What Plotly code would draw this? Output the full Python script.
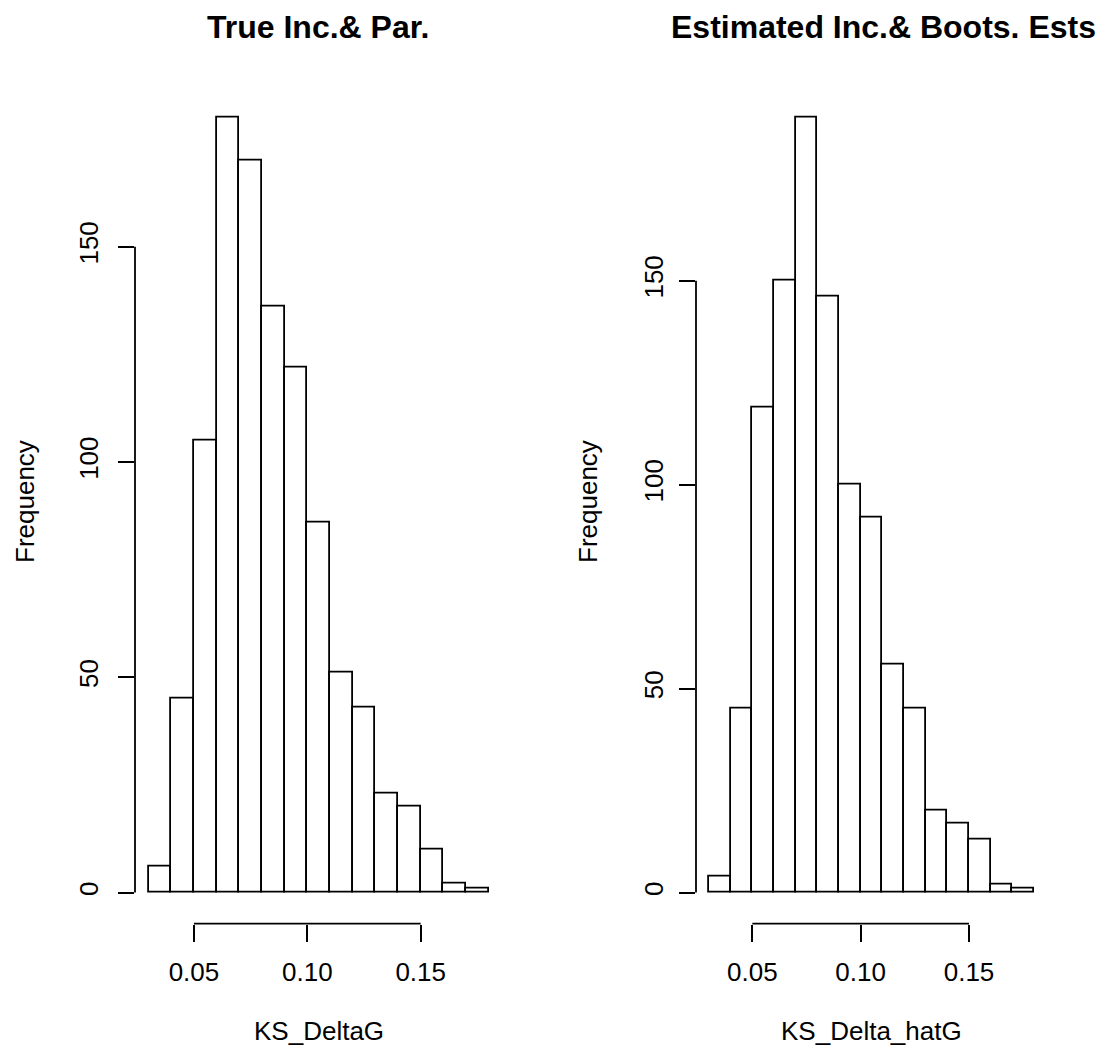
import plotly.graph_objects as go

# Histogram breaks (shared by both panels)
bin_edges = [0.03, 0.04, 0.05, 0.06, 0.07, 0.08, 0.09, 0.10, 0.11, 0.12,
             0.13, 0.14, 0.15, 0.16, 0.17, 0.18]

# Frequencies
counts_true = [6, 45, 105, 180, 170, 136, 122, 86, 51, 43, 23, 20, 10, 2, 1]
counts_est = [4, 45, 119, 150, 190, 146, 100, 92, 56, 45, 20, 17, 13, 2, 1]

titles = ["True Inc.& Par.", "Estimated Inc.& Boots. Ests"]
xlabels = ["KS_DeltaG", "KS_Delta_hatG"]
ylabel = "Frequency"

x_ticks = [0.05, 0.10, 0.15]
x_ticktext = ["0.05", "0.10", "0.15"]
y_ticks = [0, 50, 100, 150]
y_ticktext = ["0", "50", "100", "150"]

# window is 1106x1055; the page body has an 8px default margin on every side
OFF = 8
W, H = 1106 - 2 * OFF, 1055 - 2 * OFF
FONT = "Liberation Sans, Arial, Helvetica, sans-serif"

def px_x(p):
    return (p - OFF) / W

def px_y(p):
    return 1 - (p - OFF) / H

centers = [(a + b) / 2 for a, b in zip(bin_edges[:-1], bin_edges[1:])]
widths = [b - a for a, b in zip(bin_edges[:-1], bin_edges[1:])]

# R-style 4% range extension
def ext(lo, hi):
    d = (hi - lo) * 0.04
    return [lo - d, hi + d]

xr = ext(bin_edges[0], bin_edges[-1])

# panel layout in window pixels: (left, right)
panels_px = [(135.0, 502.3), (696.0, 1047.0)]
top_px, bot_px = 86.6, 923.6
ydom = [px_y(bot_px), px_y(top_px)]
title_cx = [318.0, 883.0]
ylab_cx = [25.0, 588.0]
ystandoff = [10, 6]

fig = go.Figure()
all_counts = [counts_true, counts_est]
for i, cnts in enumerate(all_counts):
    xa = "x" if i == 0 else "x2"
    ya = "y" if i == 0 else "y2"
    fig.add_trace(go.Bar(
        x=centers, y=cnts, width=widths,
        marker=dict(color="white", line=dict(color="black", width=1.8)),
        xaxis=xa, yaxis=ya, showlegend=False, hoverinfo="x+y",
    ))

layout = dict(
    width=W, height=H, margin=dict(l=0, r=0, t=0, b=0),
    paper_bgcolor="white", plot_bgcolor="white",
    font=dict(family=FONT, size=26, color="black"),
    bargap=0, showlegend=False,
)

shapes = []
annotations = []
for i, cnts in enumerate(all_counts):
    sfx = "" if i == 0 else "2"
    l, r = panels_px[i]
    xdom = [px_x(l), px_x(r)]
    yr = ext(0, max(cnts))
    layout["xaxis" + sfx] = dict(
        domain=xdom, range=xr, anchor="y" + sfx,
        showgrid=False, zeroline=False, showline=False,
        tickmode="array", tickvals=x_ticks, ticktext=x_ticktext,
        ticks="outside", ticklen=17, tickwidth=1.8, tickcolor="black",
        ticklabelstandoff=8,
        tickfont=dict(family=FONT, size=26, color="black"),
    )
    layout["yaxis" + sfx] = dict(
        domain=ydom, range=yr, anchor="x" + sfx,
        showgrid=False, zeroline=False, showline=False,
        tickmode="array", tickvals=y_ticks, ticktext=y_ticktext,
        ticks="outside", ticklen=16, tickwidth=1.8, tickcolor="black",
        tickangle=-90, ticklabelstandoff=ystandoff[i],
        tickfont=dict(family=FONT, size=26, color="black"),
    )
    # R-style axis lines spanning only the tick range
    shapes.append(dict(type="line", xref="x" + sfx, yref="y" + sfx + " domain",
                       x0=min(x_ticks), x1=max(x_ticks), y0=0, y1=0,
                       line=dict(color="black", width=1.8)))
    shapes.append(dict(type="line", xref="x" + sfx + " domain", yref="y" + sfx,
                       x0=0, x1=0, y0=min(y_ticks), y1=max(y_ticks),
                       line=dict(color="black", width=1.8)))
    # titles
    annotations.append(dict(text="<b>" + titles[i] + "</b>", xref="paper", yref="paper",
                            x=px_x(title_cx[i]), y=1, xanchor="center", yanchor="top",
                            borderpad=0,
                            showarrow=False, font=dict(family=FONT, size=32, color="black")))
    # x label
    annotations.append(dict(text=xlabels[i], xref="paper", yref="paper",
                            x=px_x((l + r) / 2), y=0, xanchor="center", yanchor="bottom",
                            borderpad=0,
                            showarrow=False, font=dict(family=FONT, size=26, color="black")))
    # y label
    annotations.append(dict(text=ylabel, xref="paper", yref="paper", textangle=-90,
                            x=px_x(ylab_cx[i]), y=px_y(502), xanchor="center", yanchor="middle",
                            showarrow=False, font=dict(family=FONT, size=26, color="black")))

layout["shapes"] = shapes
layout["annotations"] = annotations
fig.update_layout(**layout)
fig.write_html("out.html")
